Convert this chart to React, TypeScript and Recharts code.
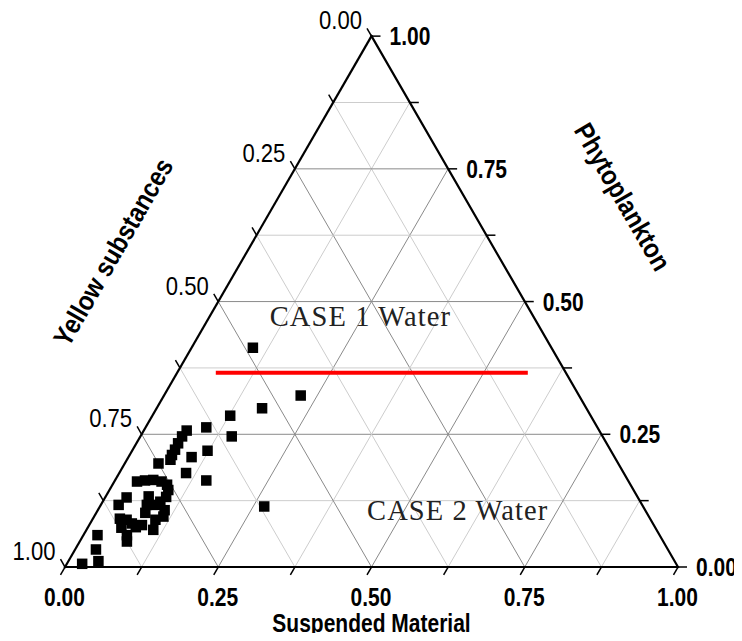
import React from "react";
import { ComposedChart, XAxis, YAxis, Line, Scatter } from "recharts";

// ---------- data (ternary fractions) ----------
const suspendedMaterial = [
  0.100, 0.223, 0.172, 0.127, 0.099, 0.149, 0.123, 0.103, 0.070, 0.068,
  0.068, 0.069, 0.069, 0.071, 0.055, 0.109, 0.149, 0.268, 0.037, 0.049,
  0.062, 0.077, 0.089, 0.096, 0.035, 0.029, 0.070, 0.075, 0.080, 0.094,
  0.099, 0.109, 0.113, 0.103, 0.044, 0.056, 0.068, 0.086, 0.109, 0.071,
  0.077, 0.023, 0.034, 0.049, 0.025, 0.088, 0.078, 0.055,
];
const phytoplankton = [
  0.413, 0.323, 0.299, 0.285, 0.263, 0.246, 0.219, 0.207, 0.257, 0.246,
  0.233, 0.221, 0.211, 0.202, 0.195, 0.177, 0.163, 0.114, 0.161, 0.163,
  0.164, 0.161, 0.155, 0.145, 0.131, 0.117, 0.133, 0.117, 0.102, 0.123,
  0.132, 0.107, 0.095, 0.089, 0.091, 0.089, 0.082, 0.079, 0.070, 0.060,
  0.048, 0.060, 0.033, 0.011, 0.006, 0.117, 0.075, 0.074,
];
const tickValues = [0, 0.125, 0.25, 0.375, 0.5, 0.625, 0.75, 0.875, 1];
const labelValues = [0, 0.25, 0.5, 0.75, 1];
const labelTexts = ["0.00", "0.25", "0.50", "0.75", "1.00"];
const gridValues = [0.125, 0.25, 0.375, 0.5, 0.625, 0.75, 0.875];
const boundaryPhytoplankton = 0.366;
const boundarySuspended = [0.063, 0.572];
const regionNames = ["CASE 1 Water", "CASE 2 Water"];
const regionSuspended = [0.2465, 0.588];
const regionPhytoplankton = [0.471, 0.1055];

// ---------- layout ----------
const W = 742;
const H = 641;
const UNIT = 613; // px per unit of the triangle side
const OX = 65;
const OY = 567;
const X_DOMAIN: [number, number] = [-OX / UNIT, (W - OX) / UNIT];
const Y_DOMAIN: [number, number] = [-(H - OY) / UNIT, OY / UNIT];
const R3 = Math.sqrt(3) / 2;
const TICK = 9 / UNIT;

const toXY = (s: number, p: number) => ({ x: s + p / 2, y: p * R3 });

const FONT = "'Liberation Sans', Arial, sans-serif";

type Seg = { pts: { x: number; y: number }[]; stroke: string; width: number };

const segments: Seg[] = [];
gridValues.forEach((t, i) => {
  const major = i % 2 === 1;
  const stroke = major ? "#8a8a8a" : "#cdcdcd";
  segments.push({ pts: [toXY(0, t), toXY(1 - t, t)], stroke, width: 1 });
  segments.push({ pts: [toXY(t, 0), toXY(t, 1 - t)], stroke, width: 1 });
  segments.push({ pts: [toXY(1 - t, 0), toXY(0, 1 - t)], stroke, width: 1 });
});
const tickSegs: Seg[] = [];
tickValues.forEach((t) => {
  const b = toXY(t, 0);
  tickSegs.push({ pts: [b, { x: b.x - TICK / 2, y: b.y - TICK * R3 }], stroke: "#000", width: 1.5 });
  const r = toXY(1 - t, t);
  tickSegs.push({ pts: [r, { x: r.x + TICK, y: r.y }], stroke: "#000", width: 1.5 });
  const l = toXY(0, 1 - t);
  tickSegs.push({ pts: [l, { x: l.x - TICK / 2, y: l.y + TICK * R3 }], stroke: "#000", width: 1.5 });
});
const border: Seg[] = [
  { pts: [toXY(0, 0), toXY(1, 0)], stroke: "#000", width: 2.2 },
  { pts: [toXY(1, 0), toXY(0, 1)], stroke: "#000", width: 2.2 },
  { pts: [toXY(0, 1), toXY(0, 0)], stroke: "#000", width: 2.2 },
];
const redLine = [
  toXY(boundarySuspended[0], boundaryPhytoplankton),
  toXY(boundarySuspended[1], boundaryPhytoplankton),
];

const points = suspendedMaterial.map((s, i) => toXY(s, phytoplankton[i]));

const bottomLabels = labelValues.map((t, i) => ({ ...toXY(t, 0), label: labelTexts[i] }));
const rightLabels = labelValues.map((t, i) => ({ ...toXY(1 - t, t), label: labelTexts[i] }));
const leftLabels = labelValues.map((t, i) => {
  const l = toXY(0, 1 - t);
  return { x: l.x - TICK / 2, y: l.y + TICK * R3, label: labelTexts[i] };
});
const regionLabels = regionNames.map((n, i) => ({
  ...toXY(regionSuspended[i], regionPhytoplankton[i]),
  label: n,
}));
const suspendedTitle = [{ x: 0.5, y: 0, label: "Suspended Material" }];
const phytoTitle = [{ x: 0.91, y: 0.604, label: "Phytoplankton" }];
const yellowTitle = [{ x: 0.0783, y: 0.514, label: "Yellow substances" }];

const lbl = (p: any) => p?.payload?.label ?? p?.label ?? "";

const SText = ({ x, y, angle = 0, sx = 0.84, anchor = "middle", size, weight = "bold", baseline, children }: any) => (
  <g transform={`translate(${x} ${y}) rotate(${angle}) scale(${sx} 1)`}>
    <text x={0} y={0} textAnchor={anchor} dominantBaseline={baseline} fontFamily={FONT}
      fontWeight={weight} fontSize={size} fill="#000">
      {children}
    </text>
  </g>
);

export default function App() {
  return (
    <div style={{ margin: -8, width: W, height: H }}>
      <ComposedChart width={W} height={H} margin={{ top: 0, right: 0, bottom: 0, left: 0 }}>
        <XAxis type="number" dataKey="x" domain={X_DOMAIN} hide allowDataOverflow />
        <YAxis type="number" dataKey="y" domain={Y_DOMAIN} hide allowDataOverflow />
        {segments.map((s, i) => (
          <Line key={"g" + i} data={s.pts} dataKey="y" stroke={s.stroke} strokeWidth={s.width}
            dot={false} activeDot={false} isAnimationActive={false} legendType="none" />
        ))}
        {tickSegs.map((s, i) => (
          <Line key={"t" + i} data={s.pts} dataKey="y" stroke={s.stroke} strokeWidth={s.width}
            dot={false} activeDot={false} isAnimationActive={false} legendType="none" />
        ))}
        {border.map((s, i) => (
          <Line key={"b" + i} data={s.pts} dataKey="y" stroke={s.stroke} strokeWidth={s.width}
            dot={false} activeDot={false} isAnimationActive={false} legendType="none" strokeLinecap="square" />
        ))}
        <Line data={redLine} dataKey="y" stroke="#ff0000" strokeWidth={4} dot={false}
          activeDot={false} isAnimationActive={false} legendType="none" />
        <Scatter data={points} dataKey="y" isAnimationActive={false} legendType="none"
          shape={(p: any) => <rect x={p.cx - 5.25} y={p.cy - 5.25} width={10.5} height={10.5} fill="#000" />} />
        <Scatter data={bottomLabels} dataKey="y" isAnimationActive={false} legendType="none"
          shape={(p: any) => (
            <SText x={p.cx - 0.5} y={p.cy + 39} size={25}>{lbl(p)}</SText>
          )} />
        <Scatter data={rightLabels} dataKey="y" isAnimationActive={false} legendType="none"
          shape={(p: any) => (
            <SText x={p.cx + 18} y={p.cy + 9} anchor="start" size={25}>{lbl(p)}</SText>
          )} />
        <Scatter data={leftLabels} dataKey="y" isAnimationActive={false} legendType="none"
          shape={(p: any) => (
            <SText x={p.cx - 5} y={p.cy + 1} anchor="end" size={26} weight="normal" sx={0.85}>{lbl(p)}</SText>
          )} />
        <Scatter data={regionLabels} dataKey="y" isAnimationActive={false} legendType="none"
          shape={(p: any) => (
            <text x={p.cx} y={p.cy + 9.5} textAnchor="middle" fontFamily="'Liberation Serif', 'Times New Roman', serif"
              fontSize={28.5} letterSpacing={1.1} fill="#222">
              {lbl(p)}
            </text>
          )} />
        <Scatter data={suspendedTitle} dataKey="y" isAnimationActive={false} legendType="none"
          shape={(p: any) => (
            <SText x={p.cx} y={p.cy + 65} size={25}>{lbl(p)}</SText>
          )} />
        <Scatter data={phytoTitle} dataKey="y" isAnimationActive={false} legendType="none"
          shape={(p: any) => (
            <SText x={p.cx} y={p.cy} angle={60} sx={0.88} size={27} baseline="central">{lbl(p)}</SText>
          )} />
        <Scatter data={yellowTitle} dataKey="y" isAnimationActive={false} legendType="none"
          shape={(p: any) => (
            <SText x={p.cx} y={p.cy} angle={-60} sx={0.88} size={27} baseline="central">{lbl(p)}</SText>
          )} />
      </ComposedChart>
    </div>
  );
}
